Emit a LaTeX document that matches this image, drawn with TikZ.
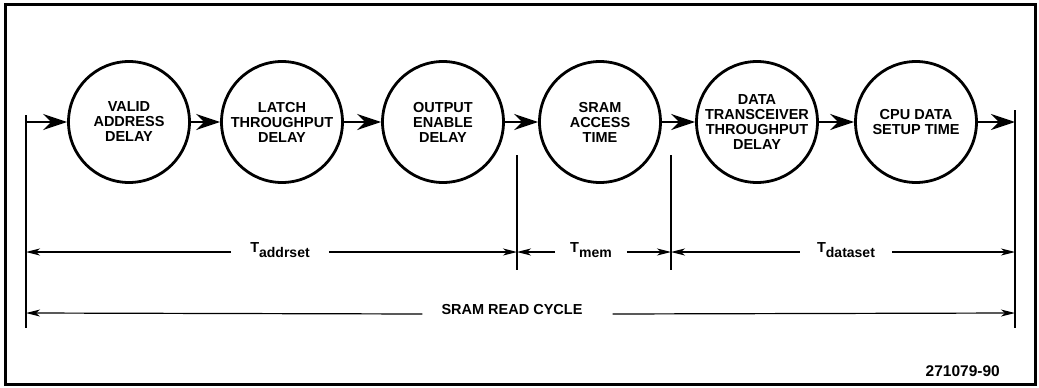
\documentclass[tikz,border=0pt]{standalone}
\usepackage{fontspec}
\setmainfont{Liberation Sans}
\usetikzlibrary{arrows.meta}
\begin{document}
\begin{tikzpicture}[x=1pt,y=-1pt,
  stage/.style={draw, line width=2.8pt, circle, minimum size=121pt, inner sep=0pt, align=center,
    font=\bfseries\fontsize{14.5}{15}\selectfont},
  flow/.style={line width=2.8pt, -{Stealth[length=24pt,width=16pt,inset=8pt]}},
  dim/.style={line width=1.2pt, -{Stealth[length=14pt,width=7pt,inset=4pt]}},
  tickline/.style={line width=1.3pt},
  lab/.style={font=\bfseries\fontsize{14.5}{16}\selectfont, inner ysep=0pt}]
\useasboundingbox (0,0) rectangle (1039,388);
\draw[line width=3pt] (5,4) rectangle (1035,384);

% stages
\node[stage] (c1) at (129,122) {VALID\\ADDRESS\\DELAY};
\node[stage] (c2) at (282,122) {LATCH\\THROUGHPUT\\DELAY};
\node[stage] (c3) at (443,122) {OUTPUT\\ENABLE\\DELAY};
\node[stage] (c4) at (600,122) {SRAM\\ACCESS\\TIME};
\node[stage] (c5) at (757,122) {DATA\\TRANSCEIVER\\THROUGHPUT\\DELAY};
\node[stage] (c6) at (916,122) {CPU DATA\\SETUP TIME};

% boundary ticks
\coordinate (vLt) at (26,115);   \coordinate (vLb) at (26,328);
\coordinate (vRt) at (1015,110); \coordinate (vRb) at (1015,328);
\coordinate (vAt) at (517,155);  \coordinate (vAb) at (517,270);
\coordinate (vBt) at (671,155);  \coordinate (vBb) at (671,270);
\draw[tickline] (vLt) -- (vLb);
\draw[tickline] (vRt) -- (vRb);
\draw[tickline] (vAt) -- (vAb);
\draw[tickline] (vBt) -- (vBb);

% flow arrows
\coordinate (in) at (26,122);
\coordinate (out) at (1015,122);
\draw[flow] (in) -- (c1);
\draw[flow] (c1) -- (c2);
\draw[flow] (c2) -- (c3);
\draw[flow] (c3) -- (c4);
\draw[flow] (c4) -- (c5);
\draw[flow] (c5) -- (c6);
\draw[flow] (c6) -- (out);

% dimension targets
\coordinate (aL) at (26,252);  \coordinate (aR) at (517,252);
\coordinate (mR) at (671,252);
\coordinate (dR) at (1015,252);
\coordinate (sL) at (26,313);  \coordinate (sR) at (1015,313);

\node[lab, anchor=base, inner xsep=19pt] (ta) at (280,252)
  {T\raisebox{-5pt}{\fontsize{14}{14}\selectfont addrset}};
\node[lab, anchor=base, inner xsep=15pt] (tm) at (591,252)
  {T\raisebox{-5pt}{\fontsize{14}{14}\selectfont mem}};
\node[lab, anchor=base, inner xsep=17pt] (td) at (846,252)
  {T\raisebox{-5pt}{\fontsize{14}{14}\selectfont dataset}};
\node[lab, anchor=base, inner xsep=19pt] (sr) at (512,314) {SRAM READ CYCLE};

\draw[dim] (ta.base west) -- (aL);
\draw[dim] (ta.base east) -- (aR);
\draw[dim] (tm.base west) -- (aR);
\draw[dim] (tm.base east) -- (mR);
\draw[dim] (td.base west) -- (mR);
\draw[dim] (td.base east) -- (dR);
\draw[dim] (sr.base west) -- (sL);
\draw[dim] ([xshift=11pt]sr.base east) -- (sR);

\node[lab, anchor=base east, font=\bfseries\fontsize{15.5}{16}\selectfont, inner sep=0pt] (id) at (1000,376) {271079-90};
\end{tikzpicture}
\end{document}
